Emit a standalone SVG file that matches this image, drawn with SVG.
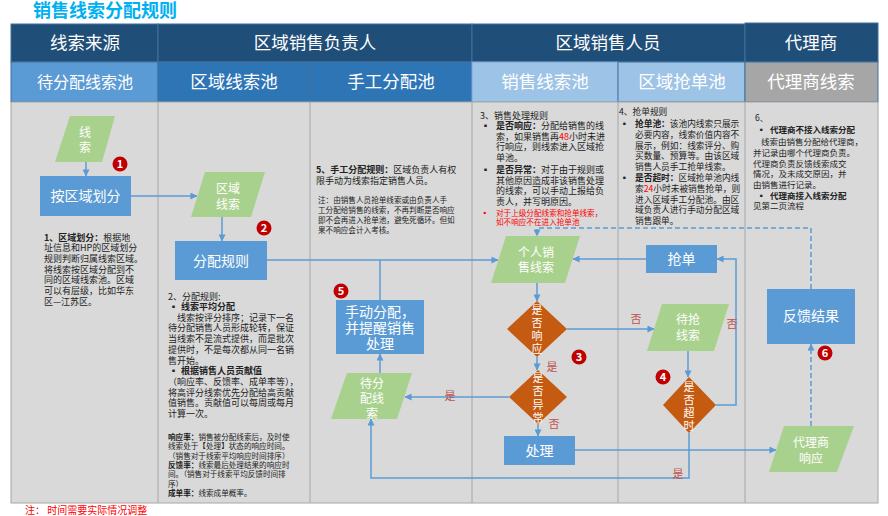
<svg xmlns="http://www.w3.org/2000/svg" width="888" height="516" viewBox="0 0 888 516">
<defs>
<style>
text{font-family:"Noto Sans CJK SC","Noto Sans",sans-serif;}
.h1{fill:#1f4e79;stroke:#41719c;stroke-width:1}
.h1t{fill:#fff;font-size:17.5px;text-anchor:middle}
.h2t{fill:#fff;font-size:17.5px;text-anchor:middle}
.box{fill:#5b9bd5}
.bt{fill:#fff;font-size:14px;text-anchor:middle}
.para{fill:#a9d18e}
.pt{fill:#fff;font-size:12px;text-anchor:middle}
.dia{fill:#c55a11}
.dt{fill:#fff;font-size:11px;text-anchor:middle}
.conn{fill:none;stroke:#5b9bd5;stroke-width:1.5}
.dash{stroke-dasharray:5,3}
.lbl{fill:#c0504d;font-size:11px;text-anchor:middle}
.badge circle{fill:#c00000}
.badge text{fill:#fff;font-size:11px;font-weight:bold;text-anchor:middle}
.note{fill:#222;font-size:9px}
.small{fill:#222;font-size:7.6px}
.red{fill:#ff0000}
.b{font-weight:bold}
.col{stroke:#a6a6a6;stroke-width:1}
</style>
<marker id="arr" viewBox="0 0 8 8" refX="7.5" refY="4" markerWidth="7" markerHeight="7" markerUnits="userSpaceOnUse" orient="auto">
<path d="M0,0 L8,4 L0,8 z" fill="#5b9bd5"/>
</marker>
</defs>

<text x="33" y="17" style="fill:#00b0f0;font-size:18px;font-weight:bold">销售线索分配规则</text>

<g id="header">
<rect class="h1" x="11" y="24" width="147" height="38"/>
<rect class="h1" x="158" y="24" width="314" height="38"/>
<rect class="h1" x="472" y="24" width="273" height="38"/>
<rect class="h1" x="745" y="23" width="133" height="39"/>
<text class="h1t" x="85" y="49">线索来源</text>
<text class="h1t" x="315" y="49">区域销售负责人</text>
<text class="h1t" x="608" y="49">区域销售人员</text>
<text class="h1t" x="811" y="49">代理商</text>
<rect x="11" y="62" width="147" height="40" fill="#5b9bd5" stroke="#41719c" stroke-width="1"/>
<rect x="158" y="62" width="152" height="40" fill="#2e75b6" stroke="#41719c" stroke-width="1"/>
<rect x="310" y="62" width="162" height="40" fill="#2e75b6" stroke="#41719c" stroke-width="1"/>
<rect x="472" y="62" width="146" height="40" fill="#9dc3e6" stroke="#7aa6cf" stroke-width="1"/>
<rect x="618" y="62" width="127" height="40" fill="#9dc3e6" stroke="#41719c" stroke-width="1"/>
<rect x="745" y="62" width="133" height="40" fill="#a6a6a6" stroke="#41719c" stroke-width="1"/>
<text class="h2t" x="85" y="88" style="font-size:16px">待分配线索池</text>
<text class="h2t" x="234" y="88">区域线索池</text>
<text class="h2t" x="391" y="88">手工分配池</text>
<text class="h2t" x="545" y="88">销售线索池</text>
<text class="h2t" x="682" y="88">区域抢单池</text>
<text class="h2t" x="811" y="88">代理商线索</text>
</g>

<g id="body">
<rect x="11" y="102" width="867" height="401" fill="#d9d9d9" stroke="#a6a6a6" stroke-width="1"/>
<line class="col" x1="158" y1="102" x2="158" y2="503"/>
<line class="col" x1="310" y1="102" x2="310" y2="503"/>
<line class="col" x1="472" y1="102" x2="472" y2="503"/>
<line class="col" x1="618" y1="102" x2="618" y2="503"/>
<line class="col" x1="745" y1="102" x2="745" y2="503"/>
</g>

<g id="notes">
<text class="note">
<tspan x="44" y="240.5"><tspan class="b">1、区域划分：</tspan>根据地</tspan>
<tspan x="44" y="251.2">址信息和HP的区域划分</tspan>
<tspan x="44" y="261.9">规则判断归属线索区域。</tspan>
<tspan x="44" y="272.6">将线索按区域分配到不</tspan>
<tspan x="44" y="283.3">同的区域线索池。区域</tspan>
<tspan x="44" y="294">可以有层级，比如华东</tspan>
<tspan x="44" y="304.7">区—江苏区。</tspan>
</text>
<text class="note">
<tspan x="168" y="299.5">2、分配规则:</tspan>
<tspan x="169" y="310" class="b">▪</tspan><tspan x="181" y="310" class="b">线索平均分配</tspan>
<tspan x="177" y="320.7">线索按评分排序；记录下一名</tspan>
<tspan x="168" y="331.4">待分配销售人员形成轮转，保证</tspan>
<tspan x="168" y="342.1">当线索不是流式提供，而是批次</tspan>
<tspan x="168" y="352.8">提供时，不是每次都从同一名销</tspan>
<tspan x="168" y="363.5">售开始。</tspan>
<tspan x="169" y="374.2" class="b">▪</tspan><tspan x="181" y="374.2" class="b">根据销售人员贡献值</tspan>
<tspan x="168" y="384.9">（响应率、反馈率、成单率等），</tspan>
<tspan x="168" y="395.6">将高评分线索优先分配给高贡献</tspan>
<tspan x="168" y="406.3">值销售。贡献值可以每周或每月</tspan>
<tspan x="168" y="417">计算一次。</tspan>
</text>
<text class="small">
<tspan x="168" y="440"><tspan class="b">响应率：</tspan>销售被分配线索后，及时使</tspan>
<tspan x="168" y="449.3">线索处于【处理】状态的响应时间。</tspan>
<tspan x="168" y="458.6">（销售对于线索平均响应时间排序）</tspan>
<tspan x="168" y="467.9"><tspan class="b">反馈率：</tspan>线索最后处理结果的响应时</tspan>
<tspan x="168" y="477.2">间。（销售对于线索平均反馈时间排</tspan>
<tspan x="168" y="486.5">序）</tspan>
<tspan x="168" y="495.8"><tspan class="b">成单率：</tspan>线索成单概率。</tspan>
</text>
<text class="note">
<tspan x="316" y="172.5"><tspan class="b">5、手工分配规则：</tspan>区域负责人有权</tspan>
<tspan x="316" y="184">限手动为线索指定销售人员。</tspan>
</text>
<text class="small">
<tspan x="318" y="203">注：由销售人员抢单线索或由负责人手</tspan>
<tspan x="318" y="213">工分配给销售的线索，不再判断是否响应</tspan>
<tspan x="318" y="223">即不会再进入抢单池，避免死循环。但如</tspan>
<tspan x="318" y="233">果不响应会计入考核。</tspan>
</text>
<text class="note">
<tspan x="480" y="118.5">3、销售处理规则</tspan>
<tspan x="481" y="129" class="b">▪</tspan><tspan x="496" y="129"><tspan class="b">是否响应：</tspan>分配给销售的线</tspan>
<tspan x="496" y="139.5">索，如果销售再<tspan class="red">48</tspan>小时未进</tspan>
<tspan x="496" y="150">行响应，则线索进入区域抢</tspan>
<tspan x="496" y="160.5">单池。</tspan>
<tspan x="481" y="173" class="b">▪</tspan><tspan x="496" y="173"><tspan class="b">是否异常：</tspan>对于由于规则或</tspan>
<tspan x="496" y="183.5">其他原因造成非该销售处理</tspan>
<tspan x="496" y="194">的线索，可以手动上报给负</tspan>
<tspan x="496" y="204.5">责人，并写明原因。</tspan>
</text>
<text class="small red">
<tspan x="481" y="215.5">▪</tspan><tspan x="496" y="215.5">对于上级分配线索和抢单线索，</tspan>
<tspan x="496" y="224.5">如不响应不在进入抢单池</tspan>
</text>
<text class="note" style="font-size:8.7px">
<tspan x="619" y="115">4、抢单规则</tspan>
<tspan x="620" y="127.3" class="b">▪</tspan><tspan x="635" y="127.3"><tspan class="b">抢单池：</tspan>该池内线索只展示</tspan>
<tspan x="635" y="138.2">必要内容，线索价值内容不</tspan>
<tspan x="635" y="148.6">展示，例如：线索评分、购</tspan>
<tspan x="635" y="159.2">买数量、预算等。由该区域</tspan>
<tspan x="635" y="169.6">销售人员手工抢单线索。</tspan>
<tspan x="620" y="180.6" class="b">▪</tspan><tspan x="635" y="180.6"><tspan class="b">是否超时：</tspan>区域抢单池内线</tspan>
<tspan x="635" y="191.6">索<tspan class="red">24</tspan>小时未被销售抢单，则</tspan>
<tspan x="635" y="202.6">进入区域手工分配池。由区</tspan>
<tspan x="635" y="213.3">域负责人进行手动分配区域</tspan>
<tspan x="635" y="223.5">销售跟单。</tspan>
</text>
<text class="note" style="font-size:8.5px">
<tspan x="755" y="121">6、</tspan>
<tspan x="757" y="133" class="b">▪</tspan><tspan x="770" y="133" class="b">代理商不接入线索分配</tspan>
<tspan x="761" y="145">线索由销售分配给代理商，</tspan>
<tspan x="753" y="156">并记录由哪个代理商负责。</tspan>
<tspan x="753" y="166.5">代理商负责反馈线索成交</tspan>
<tspan x="753" y="177.3">情况，及未成交原因，并</tspan>
<tspan x="753" y="188">由销售进行记录。</tspan>
<tspan x="757" y="198.5" class="b">▪</tspan><tspan x="770" y="198.5" class="b">代理商接入线索分配</tspan>
<tspan x="753" y="209.3">见第二页流程</tspan>
</text>
<text x="25" y="514" style="fill:#ff0000;font-size:10px">注：  时间需要实际情况调整</text>
</g>

<g id="connectors">
<path class="conn" d="M86,162 V176" marker-end="url(#arr)"/>
<path class="conn" d="M131,196 H197" marker-end="url(#arr)"/>
<path class="conn" d="M222,217 V241" marker-end="url(#arr)"/>
<path class="conn" d="M267,260 H498" marker-end="url(#arr)"/>
<path class="conn" d="M380,300 V260"/>
<path class="conn" d="M380,373 V354" marker-end="url(#arr)"/>
<path class="conn dash" d="M811,289 V228 H537 V236" marker-end="url(#arr)"/>
<path class="conn" d="M646,259 H573" marker-end="url(#arr)"/>
<path class="conn" d="M537,283 V301" marker-end="url(#arr)"/>
<path class="conn" d="M567,329 H654" marker-end="url(#arr)"/>
<path class="conn" d="M537,357 V370" marker-end="url(#arr)"/>
<path class="conn" d="M509,397 H405" marker-end="url(#arr)"/>
<path class="conn" d="M538,424 V436" marker-end="url(#arr)"/>
<path class="conn" d="M575,450 H776" marker-end="url(#arr)"/>
<path class="conn" d="M688,351 V377" marker-end="url(#arr)"/>
<path class="conn" d="M716,405 H736 V259 H717" marker-end="url(#arr)"/>
<path class="conn" d="M689,433 V478 H371 V419" marker-end="url(#arr)"/>
<path class="conn dash" d="M811,426 V344" marker-end="url(#arr)"/>
<text class="lbl" x="636" y="323">否</text>
<text class="lbl" x="552" y="371">是</text>
<text class="lbl" x="450" y="400">是</text>
<text class="lbl" x="554" y="428">否</text>
<text class="lbl" x="732" y="328">否</text>
<text class="lbl" x="678" y="478">是</text>
</g>

<g id="n-xiansuo">
<polygon class="para" points="70,116 115,116 102,162 55,162"/>
<text class="pt" x="85" y="137">线</text>
<text class="pt" x="85" y="152">索</text>
</g>
<g id="n-anquyu">
<rect class="box" x="40" y="176" width="91" height="40"/>
<text class="bt" x="85.5" y="201">按区域划分</text>
</g>
<g id="n-quyuxiansuo">
<polygon class="para" points="205,172 265,172 251,217 191,217"/>
<text class="pt" x="228" y="193">区域</text>
<text class="pt" x="228" y="209">线索</text>
</g>
<g id="n-fenpeiguize">
<rect class="box" x="175" y="241" width="92" height="39"/>
<text class="bt" x="221" y="265.5">分配规则</text>
</g>
<g id="n-shoudong">
<rect class="box" x="336" y="300" width="88" height="54"/>
<text class="bt" x="380" y="317">手动分配，</text>
<text class="bt" x="380" y="333">并提醒销售</text>
<text class="bt" x="380" y="349">处理</text>
</g>
<g id="n-daifenpei">
<polygon class="para" points="347,373 412,373 397,419 331,419"/>
<text class="pt" x="372" y="388">待分</text>
<text class="pt" x="372" y="403">配线</text>
<text class="pt" x="372" y="418">索</text>
</g>
<g id="n-geren">
<polygon class="para" points="506,236 580,236 565,283 491,283"/>
<text class="pt" x="536" y="257">个人销</text>
<text class="pt" x="536" y="272">售线索</text>
</g>
<g id="n-qiangdan">
<rect class="box" x="646" y="245" width="71" height="28"/>
<text class="bt" x="681.5" y="264">抢单</text>
</g>
<g id="n-xiangying">
<polygon class="dia" points="537,301 567,329 537,357 507,329"/>
<text class="dt" x="537" y="314">是</text>
<text class="dt" x="537" y="327">否</text>
<text class="dt" x="537" y="340">响</text>
<text class="dt" x="537" y="353">应</text>
</g>
<g id="n-yichang">
<polygon class="dia" points="538,370 567,397 538,424 509,397"/>
<text class="dt" x="538" y="381.5">是</text>
<text class="dt" x="538" y="395">否</text>
<text class="dt" x="538" y="408.5">异</text>
<text class="dt" x="538" y="422">常</text>
</g>
<g id="n-chuli">
<rect class="box" x="504" y="436" width="71" height="29"/>
<text class="bt" x="539.5" y="455.5">处理</text>
</g>
<g id="n-daiqiang">
<polygon class="para" points="662,304 729,304 714,351 647,351"/>
<text class="pt" x="688" y="324">待抢</text>
<text class="pt" x="688" y="340">线索</text>
</g>
<g id="n-chaoshi">
<polygon class="dia" points="689,377 716,405 689,433 663,405"/>
<text class="dt" x="689" y="391">是</text>
<text class="dt" x="689" y="404">否</text>
<text class="dt" x="689" y="417">超</text>
<text class="dt" x="689" y="430">时</text>
</g>
<g id="n-fankui">
<rect class="box" x="767" y="289" width="88" height="55"/>
<text class="bt" x="811" y="321">反馈结果</text>
</g>
<g id="n-dailixiangying">
<polygon class="para" points="784,426 854,426 837,472 769,472"/>
<text class="pt" x="811" y="447">代理商</text>
<text class="pt" x="811" y="463">响应</text>
</g>

<g id="badges">
<g class="badge"><circle cx="120" cy="164" r="7.5"/><text x="120" y="168">1</text></g>
<g class="badge"><circle cx="264" cy="228" r="7.5"/><text x="264" y="232">2</text></g>
<g class="badge"><circle cx="579" cy="357" r="7.5"/><text x="579" y="361">3</text></g>
<g class="badge"><circle cx="663" cy="377" r="7.5"/><text x="663" y="381">4</text></g>
<g class="badge"><circle cx="341" cy="291" r="7.5"/><text x="341" y="295">5</text></g>
<g class="badge"><circle cx="825" cy="353" r="7.5"/><text x="825" y="357">6</text></g>
</g>
</svg>
